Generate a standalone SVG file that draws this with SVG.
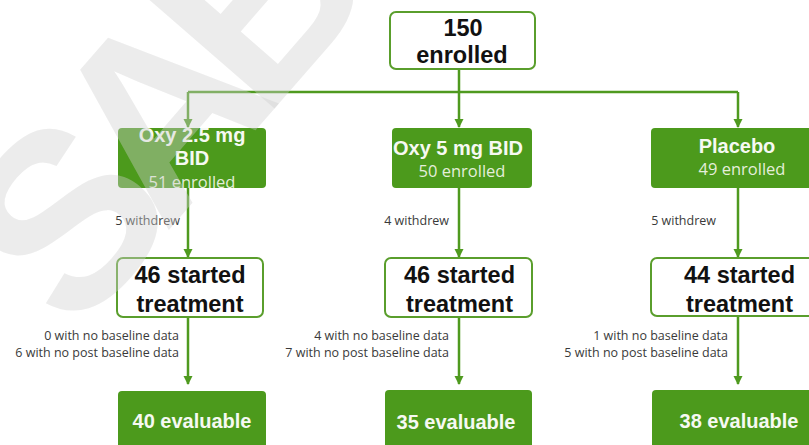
<svg xmlns="http://www.w3.org/2000/svg" width="809" height="445" viewBox="0 0 809 445">
<style>
.wbox{fill:#ffffff;stroke:#5a9e2c;stroke-width:2}
.gbox{fill:#4c9a1c}
.big{font-family:"Liberation Sans",Arial,sans-serif;font-weight:bold;font-size:23.5px;fill:#111;text-anchor:middle}
.gt{font-family:"Liberation Sans",Arial,sans-serif;font-weight:bold;font-size:20px;fill:#f6f9f2;text-anchor:middle}
.gs{font-family:"Open Sans","Noto Sans",sans-serif;font-size:16.5px;fill:#e4eedb;text-anchor:middle}
.note{font-family:"Open Sans","Noto Sans",sans-serif;font-size:12.5px;fill:#3a3a3a;text-anchor:end}
.con{stroke:#4f9a1f;stroke-width:2.5;fill:none}
.wm{font-family:"Liberation Sans",Arial,sans-serif;font-weight:bold;font-size:250px;letter-spacing:-30px;fill:#cfcfcf;fill-opacity:0.4}
</style>
<defs>
<marker id="ah" markerUnits="userSpaceOnUse" markerWidth="10" markerHeight="10" refX="8" refY="4.5" orient="auto">
<path d="M0,0 L9,4.5 L0,9 z" fill="#4f9a1f"/>
</marker>
</defs>
<rect width="809" height="445" fill="#ffffff"/>
<g id="connectors">
<path class="con" d="M459,69 V92"/>
<path class="con" d="M188,92 H738"/>
<path class="con" d="M188,92 V127" marker-end="url(#ah)"/>
<path class="con" d="M459,92 V127" marker-end="url(#ah)"/>
<path class="con" d="M738,92 V127" marker-end="url(#ah)"/>
<path class="con" d="M188,188 V257" marker-end="url(#ah)"/>
<path class="con" d="M459,188 V257" marker-end="url(#ah)"/>
<path class="con" d="M738,188 V257" marker-end="url(#ah)"/>
<path class="con" d="M188,317 V384" marker-end="url(#ah)"/>
<path class="con" d="M459,317 V384" marker-end="url(#ah)"/>
<path class="con" d="M738,316 V384" marker-end="url(#ah)"/>
</g>
<g id="labels">
<text class="note" x="180" y="225">5 withdrew</text>
<text class="note" x="449" y="225">4 withdrew</text>
<text class="note" x="716" y="225">5 withdrew</text>
<text class="note" x="179" y="340">0 with no baseline data</text>
<text class="note" x="179" y="357">6 with no post baseline data</text>
<text class="note" x="449" y="340">4 with no baseline data</text>
<text class="note" x="449" y="357">7 with no post baseline data</text>
<text class="note" x="728" y="340">1 with no baseline data</text>
<text class="note" x="728" y="357">5 with no post baseline data</text>
</g>
<g id="enrolled">
<rect class="wbox" x="390" y="12" width="145" height="57" rx="6"/>
<text class="big" x="463" y="36">150</text>
<text class="big" x="462" y="63">enrolled</text>
</g>
<g id="arm-oxy25">
<rect class="gbox" x="118" y="128" width="148" height="60" rx="4"/>
<text class="gt" x="192" y="142">Oxy 2.5 mg</text>
<text class="gt" x="192" y="165">BID</text>
<text class="gs" x="192" y="188">51 enrolled</text>
</g>
<g id="arm-oxy5">
<rect class="gbox" x="392" y="128" width="140" height="60" rx="4"/>
<text class="gt" x="458" y="155">Oxy 5 mg BID</text>
<text class="gs" x="462" y="177">50 enrolled</text>
</g>
<g id="arm-placebo">
<rect class="gbox" x="651" y="128" width="175" height="60" rx="4"/>
<text class="gt" x="737" y="153">Placebo</text>
<text class="gs" x="742" y="175">49 enrolled</text>
</g>
<g id="started-oxy25">
<rect class="wbox" x="117" y="258" width="146" height="59" rx="6"/>
<text class="big" x="190" y="283">46 started</text>
<text class="big" x="190" y="312">treatment</text>
</g>
<g id="started-oxy5">
<rect class="wbox" x="385" y="258" width="147" height="59" rx="6"/>
<text class="big" x="459.5" y="283">46 started</text>
<text class="big" x="459.5" y="312">treatment</text>
</g>
<g id="started-placebo">
<rect class="wbox" x="651" y="258" width="175" height="58" rx="6"/>
<text class="big" x="739.5" y="283">44 started</text>
<text class="big" x="739.5" y="312">treatment</text>
</g>
<g id="eval-oxy25">
<rect class="gbox" x="118" y="391" width="148" height="60" rx="4"/>
<text class="gt" x="192" y="428">40 evaluable</text>
</g>
<g id="eval-oxy5">
<rect class="gbox" x="385" y="390" width="147" height="60" rx="4"/>
<text class="gt" x="456" y="429">35 evaluable</text>
</g>
<g id="eval-placebo">
<rect class="gbox" x="652" y="390" width="175" height="60" rx="4"/>
<text class="gt" x="739" y="428">38 evaluable</text>
</g>
<g id="watermark">
<text class="wm" transform="translate(75,338) rotate(-49)">SAB</text>
</g>
</svg>
